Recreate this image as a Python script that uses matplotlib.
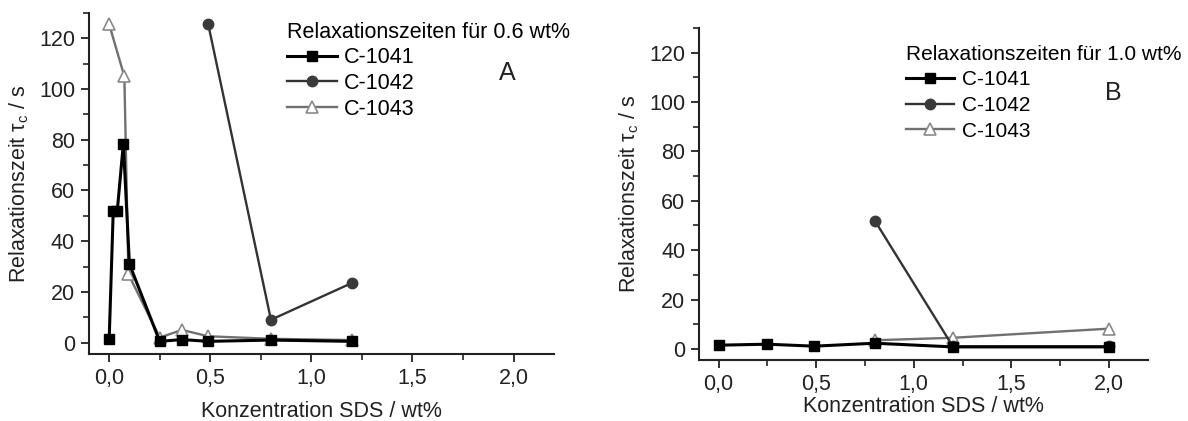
import matplotlib
matplotlib.use("Agg")
import matplotlib.pyplot as plt
from matplotlib.ticker import MultipleLocator, FuncFormatter

plt.rcParams['font.family'] = ['Liberation Sans', 'DejaVu Sans']
plt.rcParams['mathtext.fontset'] = 'custom'
plt.rcParams['mathtext.rm'] = 'Liberation Sans'
plt.rcParams['mathtext.it'] = 'Liberation Sans:italic'

# ---- Panel A data (0.6 wt%) ----
a_c1041_x = [0.0, 0.02, 0.04, 0.07, 0.10, 0.25, 0.36, 0.49, 0.80, 1.20]
a_c1041_y = [1.5, 52.0, 52.0, 78.5, 31.0, 0.5, 1.2, 0.5, 1.0, 0.5]
a_c1042_x = [0.49, 0.80, 1.20]
a_c1042_y = [125.5, 9.0, 23.5]
a_c1043_x = [0.0, 0.075, 0.095, 0.25, 0.36, 0.49, 0.80, 1.20]
a_c1043_y = [125.5, 105.0, 27.0, 2.0, 5.0, 2.5, 1.5, 1.0]

# ---- Panel B data (1.0 wt%) ----
b_c1041_x = [0.0, 0.25, 0.49, 0.80, 1.20, 2.00]
b_c1041_y = [1.5, 1.9, 1.1, 2.3, 0.8, 0.8]
b_c1042_x = [0.80, 1.20, 2.00]
b_c1042_y = [52.0, 1.0, 1.0]
b_c1043_x = [0.80, 1.20, 2.00]
b_c1043_y = [3.5, 4.5, 8.2]

series_labels = ["C-1041", "C-1042", "C-1043"]
legend_titles = ["Relaxationszeiten für 0.6 wt%", "Relaxationszeiten für 1.0 wt%"]
panel_letters = ["A", "B"]
xlabel = "Konzentration SDS / wt%"
ylabel = r"Relaxationszeit $\mathrm{\tau}_{\mathrm{c}}$ / s"

FS = 15.5

fig = plt.figure(figsize=(11.88, 4.21), dpi=100)
axA = fig.add_axes([0.0749, 0.1591, 0.3914, 0.810])
axB = fig.add_axes([0.5884, 0.1449, 0.3780, 0.7886])

styles = [
    dict(color='#000000', lw=2.2, marker='s', ms=7, mfc='#000000', mec='#000000'),
    dict(color='#333333', lw=1.7, marker='o', ms=7.5, mfc='#3a3a3a', mec='#3a3a3a'),
    dict(color='#707070', lw=1.7, marker='^', ms=8.5, mfc='white', mec='#8a8a8a', mew=1.2),
]
zorders = [5, 4, 3]

data = [
    [(a_c1041_x, a_c1041_y), (a_c1042_x, a_c1042_y), (a_c1043_x, a_c1043_y)],
    [(b_c1041_x, b_c1041_y), (b_c1042_x, b_c1042_y), (b_c1043_x, b_c1043_y)],
]

comma = FuncFormatter(lambda v, p: f"{v:.1f}".replace('.', ','))

legend_pos = [(0.426, 0.975), (0.462, 0.95)]
legend_fs = [15.5, 15.0]
legend_spacing = [0.22, 0.32]
letter_pos = [(0.899, 0.824), (0.922, 0.805)]
xlabelpads = [9, 1]

for i, ax in enumerate([axA, axB]):
    handles = []
    for j, (xs, ys) in enumerate(data[i]):
        h, = ax.plot(xs, ys, label=series_labels[j], zorder=zorders[j], **styles[j])
        handles.append(h)
    ax.set_xlim(-0.1, 2.2)
    ax.set_ylim(-4.5, 130)
    ax.xaxis.set_major_locator(MultipleLocator(0.5))
    ax.xaxis.set_minor_locator(MultipleLocator(0.25))
    ax.yaxis.set_major_locator(MultipleLocator(20))
    ax.yaxis.set_minor_locator(MultipleLocator(10))
    ax.xaxis.set_major_formatter(comma)
    for s in ['top', 'right']:
        ax.spines[s].set_visible(False)
    for s in ['left', 'bottom']:
        ax.spines[s].set_linewidth(1.5)
        ax.spines[s].set_color('#222222')
    ax.tick_params(which='major', direction='out', length=6, width=1.3, labelsize=FS, colors='#222222', pad=4)
    ax.tick_params(which='minor', direction='out', length=4, width=1.2, colors='#222222')
    ax.set_xlabel(xlabel, fontsize=FS, labelpad=xlabelpads[i], color='#222222')
    ax.set_ylabel(ylabel, fontsize=FS, labelpad=6, color='#222222')
    leg = ax.legend(handles=handles, loc='upper left', bbox_to_anchor=legend_pos[i],
                    frameon=False, fontsize=legend_fs[i], title=legend_titles[i],
                    title_fontsize=legend_fs[i], alignment='left', borderpad=0, borderaxespad=0,
                    handlelength=2.3, handletextpad=0.35, labelspacing=legend_spacing[i])
    ax.text(letter_pos[i][0], letter_pos[i][1], panel_letters[i], transform=ax.transAxes,
            fontsize=18, ha='center', va='center', color='#222222')

fig.savefig("out.png", dpi=100)
